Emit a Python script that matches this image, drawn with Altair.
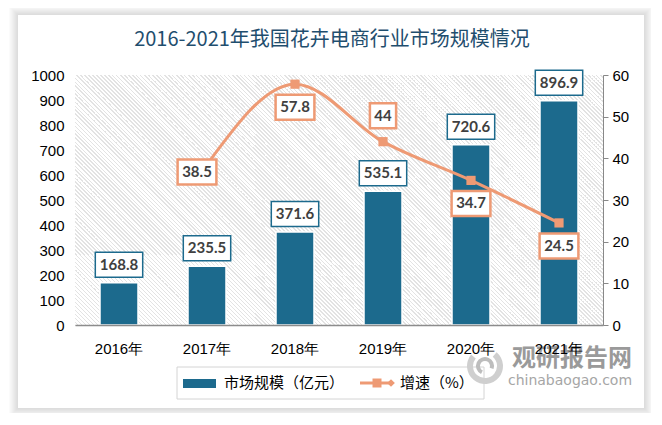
import altair as alt
import pandas as pd

# ---------------- data ----------------
years = ["2016年", "2017年", "2018年", "2019年", "2020年", "2021年"]
market_size = [168.8, 235.5, 371.6, 535.1, 720.6, 896.9]          # 市场规模（亿元）
growth_years = ["2017年", "2018年", "2019年", "2020年", "2021年"]
growth_rate = [38.5, 57.8, 44, 34.7, 24.5]                          # 增速（%）
growth_label_place = ["left", "below", "above", "below", "below"]

left_ticks = list(range(0, 1001, 100))
right_ticks = list(range(0, 61, 10))

title_text = "2016-2021年我国花卉电商行业市场规模情况"
legend_bar = "市场规模（亿元）"
legend_line = "增速（%）"

# ---------------- style ----------------
TEAL = "#1C6A8D"
ORANGE = "#EE9A74"
LABEL = "#404040"
W, H = 528, 250
PLACE = {"left": (-10, 7.5), "below": (0, 23), "above": (0, -26)}
BAR_LABEL_DY = -18


def fmt(v):
    return f"{v:g}"


def box_path(text, dx, dy, h=25):
    digits = sum(c.isdigit() for c in text)
    dots = text.count(".")
    w = 8.6 * digits + 4 * dots + 9
    return f"M{dx - w / 2:.1f},{dy - h / 2:.1f}h{w:.1f}v{h}h{-w:.1f}Z"


bar_df = pd.DataFrame({"year": years, "value": market_size})
bar_df["label"] = [fmt(v) for v in market_size]
bar_df["box"] = [box_path(t, 0, BAR_LABEL_DY) for t in bar_df["label"]]

gr_df = pd.DataFrame({"year": growth_years, "rate": growth_rate, "place": growth_label_place})
gr_df["label"] = [fmt(v) for v in growth_rate]
gr_df["box"] = [box_path(t, *PLACE[p]) for t, p in zip(gr_df["label"], gr_df["place"])]

one = pd.DataFrame({"a": [0]})

AX = dict(labelFontSize=15, labelFont="Liberation Sans", labelColor="#000000", zindex=1, title=None)

x_enc = alt.X("year:N", sort=years, scale=alt.Scale(domain=years, paddingInner=0, paddingOuter=0),
              axis=alt.Axis(labelAngle=0, ticks=False, tickSize=0, labelPadding=16,
                            domainColor="#8c8c8c", domainWidth=1.5, **AX))

y_left = alt.Y("value:Q", scale=alt.Scale(domain=[0, 1000]),
               axis=alt.Axis(values=left_ticks, format="d", domain=False, ticks=False,
                             tickSize=0, grid=False, labelPadding=11, **AX))

y_right = alt.Y("rate:Q", scale=alt.Scale(domain=[0, 60]),
                axis=alt.Axis(orient="right", values=right_ticks, format="d",
                              domainColor="#888888", tickColor="#888888", tickSize=5,
                              labelPadding=4, grid=False, **AX))

# ---------------- decorations: card shadow (outlines only), hatched plot background ----------------
deco = []
card = (-57, 569, -60, 333)
for i in range(1, 10):
    deco.append(alt.Chart(one).mark_rect(fillOpacity=0, stroke="#000000", strokeWidth=1,
                                         strokeOpacity=0.15 * (1 - i / 10)).encode(
        x=alt.value(card[0] - i + 0.5), x2=alt.value(card[1] + i - 0.5),
        y=alt.value(card[2] - i + 0.5), y2=alt.value(card[3] + i - 0.5)))

# diagonal hatch via a striped linear gradient (45 degree stripes, 4px horizontal period)
k = H / W
ga = (1 + k) / (1 + k * k)
gb = -k * ga
period = 4.0 / (W + H)
stops = []
i = 0
while i * period < 1:
    a0 = i * period
    a1 = min((i + 0.68) * period, 1)
    a2 = min((i + 1) * period, 1)
    stops += [alt.GradientStop(offset=a0, color="#ffffff"),
              alt.GradientStop(offset=a1, color="#ffffff"),
              alt.GradientStop(offset=a1, color="#e3e3e3"),
              alt.GradientStop(offset=a2, color="#e3e3e3")]
    i += 1
hatch = alt.Chart(one).mark_rect(
    fill=alt.LinearGradient(gradient="linear", stops=stops, x1=0, y1=1, x2=ga, y2=1 + gb)
).encode(x=alt.value(0), x2=alt.value(W), y=alt.value(0), y2=alt.value(H))
deco.append(hatch)

# title as text
deco.append(alt.Chart(one).mark_text(fontSize=20, font="Noto Sans CJK SC", color="#1F4E6E",
                                     baseline="middle").encode(
    x=alt.value(257), y=alt.value(-35), text=alt.value(title_text)))

# ---------------- bars + labels ----------------
bars = alt.Chart(bar_df).mark_bar(size=38, color=TEAL, stroke="#ffffff", strokeWidth=1.5).encode(
    x=x_enc, y=y_left)
bar_boxes = alt.Chart(bar_df).mark_point(
    filled=True, fill="#ffffff", stroke=TEAL, strokeWidth=1.5, size=4, opacity=1
).encode(x=x_enc, y=y_left, shape=alt.Shape("box:N", scale=None))
bar_text = alt.Chart(bar_df).mark_text(
    dy=BAR_LABEL_DY, font="Lato", fontWeight="bold", fontSize=15, color=LABEL
).encode(x=x_enc, y=y_left, text="label:N")
left = alt.layer(bars, bar_boxes, bar_text)

# ---------------- growth line + labels ----------------
line = alt.Chart(gr_df).mark_line(color=ORANGE, strokeWidth=3, interpolate="monotone").encode(
    x=x_enc, y=y_right)
pts = alt.Chart(gr_df).mark_point(shape="square", filled=True, size=85, color=ORANGE, opacity=1).encode(
    x=x_enc, y=y_right)
gr_boxes = alt.Chart(gr_df).mark_point(
    filled=True, fill="#ffffff", stroke=ORANGE, strokeWidth=2.5, size=4, opacity=1
).encode(x=x_enc, y=y_right, shape=alt.Shape("box:N", scale=None))
gr_texts = []
for p, (dx, dy) in PLACE.items():
    gr_texts.append(alt.Chart(gr_df).transform_filter(alt.datum.place == p).mark_text(
        dx=dx, dy=dy, font="Lato", fontWeight="bold", fontSize=15, color=LABEL
    ).encode(x=x_enc, y=y_right, text="label:N"))
right = alt.layer(line, pts, gr_boxes, *gr_texts)

# ---------------- legend (drawn) ----------------
leg = [
    alt.Chart(one).mark_rect(fill="#ffffff", stroke="#d4d4d4", strokeWidth=1).encode(
        x=alt.value(102), x2=alt.value(409), y=alt.value(292), y2=alt.value(324)),
    alt.Chart(one).mark_rect(color=TEAL).encode(
        x=alt.value(108), x2=alt.value(141), y=alt.value(304), y2=alt.value(313)),
    alt.Chart(one).mark_text(align="left", baseline="middle", fontSize=15,
                             font="Noto Sans CJK SC", color="#000000").encode(
        x=alt.value(149), y=alt.value(308), text=alt.value(legend_bar)),
    alt.Chart(one).mark_rule(color=ORANGE, strokeWidth=3).encode(
        x=alt.value(285), x2=alt.value(316), y=alt.value(308)),
    alt.Chart(one).mark_point(shape="square", filled=True, size=81, color=ORANGE, opacity=1).encode(
        x=alt.value(302), y=alt.value(308)),
    alt.Chart(one).mark_point(shape="diamond", filled=True, size=60, color=ORANGE, opacity=1).encode(
        x=alt.value(316), y=alt.value(308)),
    alt.Chart(one).mark_text(align="left", baseline="middle", fontSize=15,
                             font="Noto Sans CJK SC", color="#000000").encode(
        x=alt.value(325), y=alt.value(308), text=alt.value(legend_line)),
]

# ---------------- watermark ----------------
wm = [
    alt.Chart(one).mark_arc(radius=18, radius2=12, theta=0.7, theta2=5.4, color="#cfcfcf").encode(
        x=alt.value(410), y=alt.value(291)),
    alt.Chart(one).mark_arc(radius=9, radius2=5, theta=3.6, theta2=8.2, color="#bdbdbd").encode(
        x=alt.value(410), y=alt.value(291)),
    alt.Chart(one).mark_text(fontSize=24, fontWeight="bold", font="Noto Sans CJK SC",
                             color="#9a9a9a", baseline="middle").encode(
        x=alt.value(497), y=alt.value(284), text=alt.value("观研报告网")),
    alt.Chart(one).mark_text(fontSize=14, font="DejaVu Sans", color="#a6a6a6",
                             baseline="middle").encode(
        x=alt.value(495), y=alt.value(306), text=alt.value("chinabaogao.com")),
]

chart = alt.layer(*deco, left, right, *leg, *wm).resolve_scale(y="independent").properties(
    width=W, height=H,
    autosize=alt.AutoSizeParams(type="none"),
    padding={"left": 67, "top": 67, "right": 48, "bottom": 88},
).configure_view(stroke=None).configure(background="#ffffff")

chart.save("out.html", embed_options={"renderer": "svg", "actions": False})
